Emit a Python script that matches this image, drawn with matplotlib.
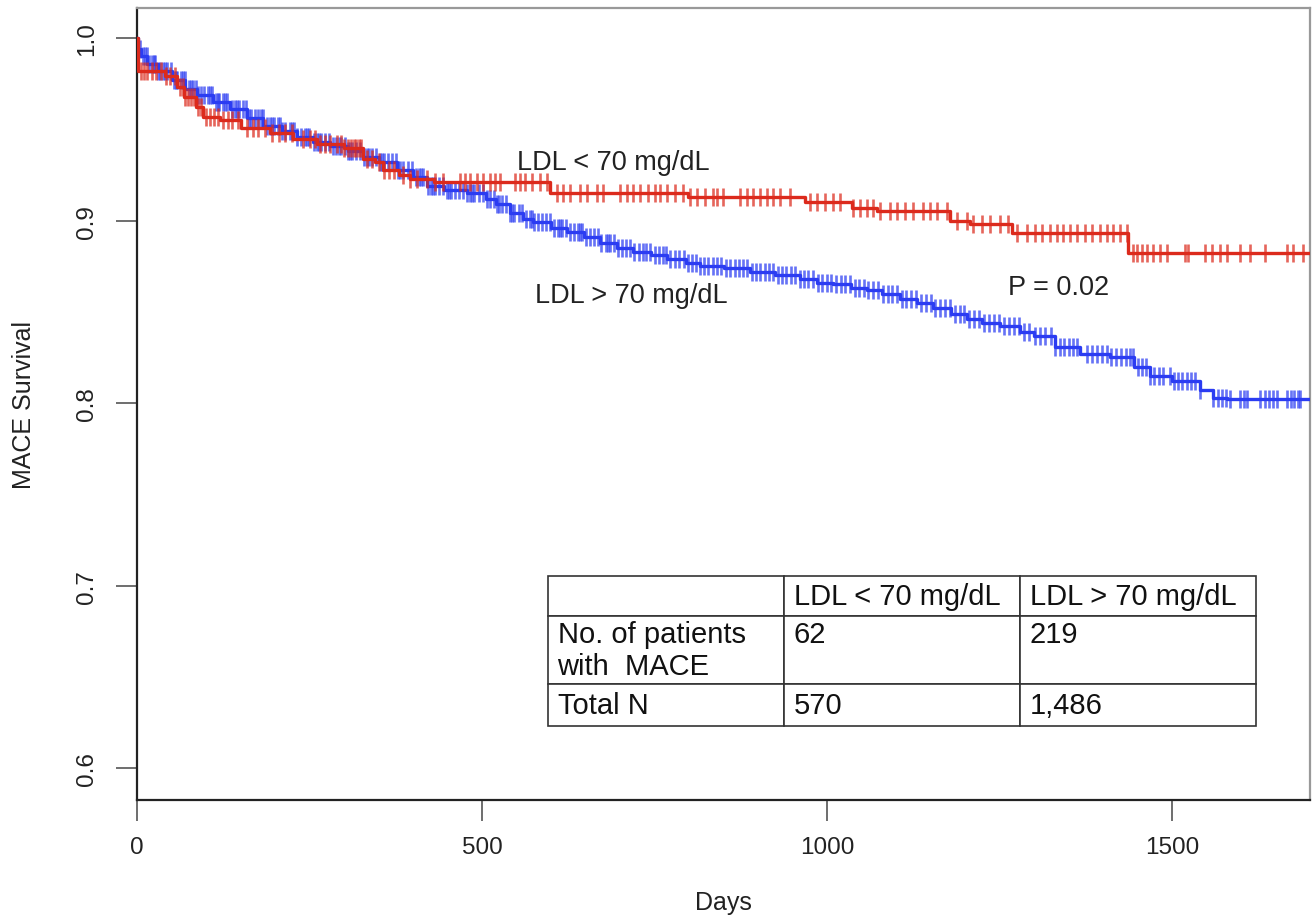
import numpy as np
import matplotlib
matplotlib.use('Agg')
import matplotlib.pyplot as plt

plt.rcParams['font.family'] = ['Liberation Sans', 'DejaVu Sans']

# Kaplan-Meier steps (day, survival after the step)
low_times = [0, 2, 40, 58, 68, 85, 95, 120, 150, 193, 226, 261, 300, 328, 345, 357, 380, 396,
             430, 598, 799, 968, 1036, 1072, 1178, 1207, 1268, 1436]
low_surv = [1.0, 0.982, 0.979, 0.973, 0.968, 0.962, 0.957, 0.955, 0.951, 0.948, 0.945, 0.942, 0.940,
            0.934, 0.932, 0.928, 0.925, 0.923, 0.921, 0.915, 0.913, 0.910, 0.907, 0.905, 0.900,
            0.898, 0.893, 0.882]

high_times = [0, 2, 5, 15, 30, 50, 70, 87, 110, 135, 160, 183, 210, 232, 255, 280, 305, 328, 350,
              377, 400, 420, 445, 478, 505, 520, 541, 560, 574, 600, 623, 648, 671, 695, 719, 745,
              768, 795, 816, 850, 888, 925, 961, 985, 1009, 1035, 1058, 1080, 1106, 1130, 1154,
              1180, 1203, 1225, 1251, 1280, 1300, 1330, 1367, 1410, 1445, 1468, 1500, 1541, 1560, 1580]
high_surv = [1.0, 0.994, 0.990, 0.986, 0.982, 0.977, 0.972, 0.969, 0.965, 0.961, 0.956, 0.952, 0.949,
             0.946, 0.943, 0.941, 0.938, 0.935, 0.932, 0.928, 0.924, 0.919, 0.917, 0.915, 0.912,
             0.909, 0.904, 0.901, 0.899, 0.896, 0.894, 0.891, 0.888, 0.885, 0.883, 0.881, 0.879,
             0.877, 0.875, 0.874, 0.872, 0.870, 0.868, 0.866, 0.865, 0.863, 0.862, 0.860, 0.857,
             0.855, 0.852, 0.849, 0.846, 0.844, 0.842, 0.839, 0.837, 0.831, 0.827, 0.825, 0.820,
             0.815, 0.812, 0.807, 0.803, 0.802]

# censoring times (days)
low_cens = [6, 10, 15, 22, 28, 35, 42, 48, 55, 62, 66, 70, 74, 78, 83, 88, 92, 100, 106, 112, 118,
            125, 132, 138, 146, 160, 168, 175, 185, 196, 205, 215, 224, 240, 250, 258, 265, 272,
            280, 290, 296, 300, 305, 310, 314, 318, 322, 325, 333, 340, 350, 358, 365, 372, 385,
            396, 406, 420, 432, 443, 468, 475, 483, 493, 501, 512, 519, 526, 548, 555, 562, 572,
            584, 594, 609, 617, 628, 642, 652, 667, 675, 700, 710, 719, 729, 741, 751, 758, 768,
            780, 791, 801, 812, 823, 835, 841, 849, 874, 884, 893, 903, 913, 922, 932, 946, 975,
            986, 997, 1009, 1019, 1038, 1048, 1058, 1067, 1077, 1091, 1101, 1113, 1125, 1139, 1149,
            1159, 1174, 1188, 1203, 1212, 1225, 1236, 1251, 1262, 1275, 1290, 1301, 1312, 1323,
            1333, 1342, 1352, 1362, 1374, 1384, 1396, 1406, 1414, 1425, 1435, 1443, 1449, 1457,
            1464, 1472, 1483, 1493, 1519, 1523, 1548, 1558, 1570, 1580, 1599, 1613, 1635, 1667,
            1675, 1690]
high_cens = [4, 8, 11, 14, 17, 21, 24, 26, 30, 33, 38, 41, 44, 49, 53, 56, 58, 64, 67, 69, 75, 78,
             81, 86, 89, 92, 97, 103, 106, 108, 114, 117, 119, 124, 128, 131, 137, 142, 145, 148, 153,
             158, 162, 165, 171, 176, 179, 182, 188, 193, 196, 199,
             204, 207, 210, 215, 221, 224, 227, 232, 238, 243, 246, 249, 256, 261, 264, 267, 272,
             278, 284, 289, 292, 295,
             301, 306, 309, 312, 318, 323, 329, 333, 336, 341, 347, 352, 355, 358, 364, 369, 375,
             378, 381, 386, 392, 398,
             404, 409, 412, 415, 421, 426, 429, 432, 437, 443, 449, 452, 455, 461, 466, 472, 478, 483,
             486, 489, 495,
             501, 507, 512, 518, 521, 524, 529, 535, 541, 544, 547, 553, 558, 564, 570, 573, 576,
             581, 587, 593, 598,
             604, 610, 613, 616, 621, 627, 633, 639, 642, 645, 650, 656, 662, 668, 673, 679, 682,
             685, 691, 697,
             703, 709, 714, 720, 727, 733, 738, 744, 750, 756, 762, 767, 773, 779, 786, 792, 798,
             804, 810, 816, 822, 828, 834, 841, 847, 853, 859, 866, 872, 878, 884, 891, 897,
             903, 910, 916, 922, 929, 935, 941, 948, 954, 961, 967, 973, 980, 987, 993,
             1000, 1006, 1013, 1020, 1026, 1033, 1040, 1046, 1053, 1060, 1067, 1074, 1081, 1088, 1094,
             1101, 1108, 1115, 1122, 1129, 1136, 1143, 1150, 1157, 1164, 1171, 1178, 1185, 1192, 1199,
             1206, 1213, 1220, 1228, 1235, 1242, 1249, 1256, 1264, 1271, 1278, 1286, 1293,
             1301, 1309, 1316, 1324, 1331, 1337, 1343, 1350, 1356, 1362, 1377, 1384, 1391, 1398,
             1405, 1412, 1419, 1426, 1433, 1439, 1444, 1450, 1456, 1462, 1468, 1474, 1481, 1487,
             1497, 1503, 1509, 1515, 1521, 1527, 1533, 1541, 1560, 1566, 1572, 1578, 1584,
             1599, 1604, 1609, 1628, 1634, 1640, 1646, 1652, 1667, 1672, 1677, 1682, 1686]

table_cols = ['', 'LDL < 70 mg/dL', 'LDL > 70 mg/dL']
table_rows = [['No. of patients\nwith  MACE', '62\n', '219\n'],
              ['Total N', '570', '1,486']]

RED = '#dc2a1c'
BLUE = '#2b3cf2'
X_END = 1700


def surv_at(times, surv, t):
    idx = np.searchsorted(times, t, side='right') - 1
    return np.asarray(surv)[idx]


fig = plt.figure(figsize=(13.14, 9.2), dpi=100)
ax = fig.add_axes([0.1043, 0.1293, 0.8927, 0.8607])

for times, surv, cens, col in [(high_times, high_surv, high_cens, BLUE),
                               (low_times, low_surv, low_cens, RED)]:
    ax.step(times + [X_END], surv + [surv[-1]], where='post', color=col, lw=2.4, zorder=3)
    ax.plot(cens, surv_at(times, surv, cens), ls='none', marker='|', ms=13, mew=1.9,
            color=col, alpha=0.72, zorder=3)

ax.text(551, 0.932, 'LDL < 70 mg/dL', fontsize=19.5, va='center', ha='left', color='#222222')
ax.text(577, 0.859, 'LDL > 70 mg/dL', fontsize=19.5, va='center', ha='left', color='#222222')
ax.text(1262, 0.8636, 'P = 0.02', fontsize=19.5, va='center', ha='left', color='#222222')

ax.set_xlim(0, X_END)
ax.set_ylim(0.5825, 1.0164)
ax.set_xticks([0, 500, 1000, 1500])
ax.set_yticks([0.6, 0.7, 0.8, 0.9, 1.0])
ax.set_yticklabels(['0.6', '0.7', '0.8', '0.9', '1.0'], rotation=90, va='center')
ax.tick_params(axis='both', length=15, width=1.2, color='#555555', labelsize=17.5,
               labelcolor='#222222')
ax.tick_params(axis='x', pad=11)
ax.tick_params(axis='y', pad=13)

ax.set_xlabel('Days', fontsize=18, color='#222222')
ax.set_ylabel('MACE Survival', fontsize=18, color='#222222')
ax.xaxis.set_label_coords(0.5, -0.114)
ax.yaxis.set_label_coords(-0.086, 0.5)

for side in ['left', 'bottom']:
    ax.spines[side].set_color('#222222')
    ax.spines[side].set_linewidth(1.6)
for side in ['top', 'right']:
    ax.spines[side].set_color('#999999')
    ax.spines[side].set_linewidth(1.6)

tab = ax.table(cellText=[table_cols] + table_rows, cellLoc='left', loc='lower right',
               bbox=[0.3504, 0.0934, 0.6036, 0.1894], zorder=5)
tab.auto_set_font_size(False)
row_h = [40, 68, 42]
for (r, c), cell in tab.get_celld().items():
    cell.set_height(row_h[r])
    cell.set_width(1.0)
    cell.set_linewidth(1.2)
    cell.set_edgecolor('#333333')
    cell.PAD = 0.04
    cell.get_text().set_fontsize(21)
    cell.get_text().set_color('#111111')

fig.savefig('out.png', dpi=100)
